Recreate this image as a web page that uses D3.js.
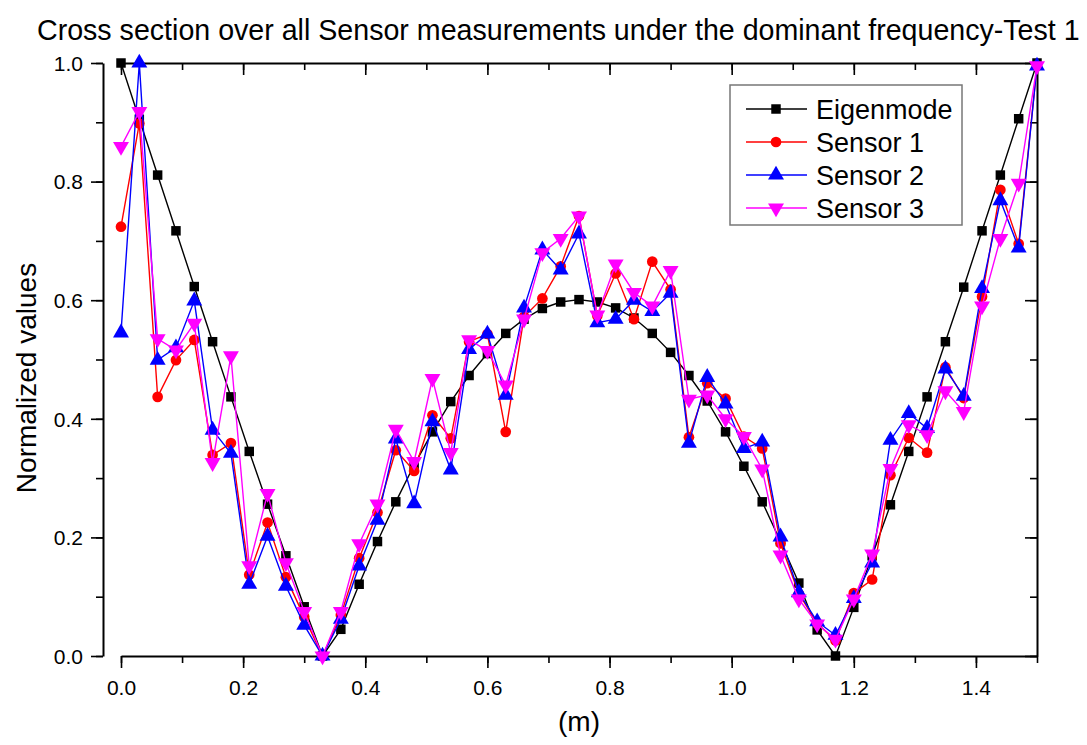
<!DOCTYPE html>
<html>
<head>
<meta charset="utf-8">
<script src="https://cdn.jsdelivr.net/npm/d3@7"></script>
<style>
  body { margin: 0; background: #fff; font-family: "Liberation Sans", Arial, sans-serif; }
  .tick text { font-family: "Liberation Sans", Arial, sans-serif; }
</style>
</head>
<body>
<div id="graph1"></div>
<script>
// positions along the beam (m)
var xs = [0.00,0.03,0.06,0.09,0.12,0.15,0.18,0.21,0.24,0.27,0.30,0.33,0.36,0.39,0.42,0.45,0.48,0.51,0.54,0.57,
          0.60,0.63,0.66,0.69,0.72,0.75,0.78,0.81,0.84,0.87,0.90,0.93,0.96,0.99,1.02,1.05,1.08,1.11,1.14,1.17,
          1.20,1.23,1.26,1.29,1.32,1.35,1.38,1.41,1.44,1.47,1.50];

var eigenmode = [1.0,0.905,0.811,0.717,0.623,0.530,0.437,0.345,0.256,0.169,0.083,0.0,0.045,0.121,0.193,0.260,0.322,0.378,0.429,0.473,
                 0.510,0.544,0.568,0.586,0.597,0.601,0.597,0.587,0.570,0.544,0.512,0.473,0.430,0.378,0.320,0.260,0.193,0.123,0.044,0.0,
                 0.082,0.169,0.255,0.345,0.437,0.530,0.622,0.717,0.811,0.906,1.0];

var sensor1 = [0.724,0.898,0.437,0.499,0.533,0.339,0.359,0.137,0.225,0.133,0.066,0.0,0.069,0.165,0.242,0.347,0.312,0.406,0.367,0.530,
               0.543,0.378,0.572,0.603,0.657,0.742,0.574,0.645,0.568,0.665,0.618,0.369,0.460,0.434,0.370,0.350,0.190,0.105,0.055,0.026,
               0.106,0.129,0.305,0.368,0.343,0.487,0.435,0.606,0.786,0.695,0.995];

var sensor2 = [0.545,1.0,0.499,0.520,0.599,0.381,0.342,0.121,0.202,0.118,0.052,0.0,0.062,0.152,0.229,0.366,0.257,0.395,0.314,0.517,
               0.543,0.440,0.587,0.685,0.651,0.712,0.562,0.568,0.600,0.581,0.612,0.359,0.470,0.425,0.350,0.361,0.201,0.107,0.058,0.035,
               0.097,0.157,0.364,0.409,0.384,0.484,0.438,0.620,0.768,0.688,0.995];

var sensor3 = [0.859,0.918,0.535,0.516,0.561,0.326,0.506,0.152,0.274,0.157,0.075,0.0,0.075,0.189,0.256,0.382,0.328,0.468,0.343,0.533,
               0.515,0.457,0.568,0.680,0.704,0.742,0.575,0.661,0.613,0.590,0.650,0.433,0.440,0.400,0.370,0.315,0.170,0.096,0.054,0.028,
               0.096,0.172,0.316,0.390,0.373,0.447,0.412,0.590,0.704,0.797,0.995];

var seriesNames = ["Eigenmode", "Sensor 1", "Sensor 2", "Sensor 3"];
var seriesColors = ["#000000", "#ff0000", "#0000ff", "#ff00ff"];
var xTicks = [0.0, 0.2, 0.4, 0.6, 0.8, 1.0, 1.2, 1.4];
var yTicks = [0.0, 0.2, 0.4, 0.6, 0.8, 1.0];

var margin = {top: 63, right: 50, bottom: 89, left: 121},
    width = 1087 - margin.left - margin.right,
    height = 745 - margin.top - margin.bottom;

var svg = d3.select("#graph1")
  .append("svg")
    .attr("width", 1087)
    .attr("height", 745);

var g = svg.append("g")
    .attr("transform", "translate(" + margin.left + "," + margin.top + ")");

var x = d3.scaleLinear().domain([0, 1.5]).range([0, width]);
var y = d3.scaleLinear().domain([0, 1.0]).range([height, 0]);

var minorX = d3.range(0, 1.5001, 0.1);
var minorY = d3.range(0, 1.0001, 0.1);

// left axis sits apart from the plot (offset)
var yOffset = -18;

// bottom axis: minor then major
g.append("g")
    .attr("transform", "translate(0," + height + ")")
    .call(d3.axisBottom(x).tickValues(minorX).tickSize(7).tickFormat(""))
    .call(function(a) { a.select(".domain").remove(); });
g.append("g")
    .attr("class", "xaxis")
    .attr("transform", "translate(0," + height + ")")
    .call(d3.axisBottom(x).tickValues(xTicks).tickSize(12).tickSizeOuter(0).tickPadding(12).tickFormat(d3.format(".1f")));

// left axis
g.append("g")
    .attr("transform", "translate(" + yOffset + ",0)")
    .call(d3.axisLeft(y).tickValues(minorY).tickSize(7).tickFormat(""))
    .call(function(a) { a.select(".domain").remove(); });
g.append("g")
    .attr("class", "yaxis")
    .attr("transform", "translate(" + yOffset + ",0)")
    .call(d3.axisLeft(y).tickValues(yTicks).tickSize(12).tickSizeOuter(0).tickPadding(8).tickFormat(d3.format(".1f")));

// top axis, ticks inward
g.append("g")
    .call(d3.axisTop(x).tickValues(minorX).tickSize(-7).tickFormat(""))
    .call(function(a) { a.select(".domain").remove(); });
g.append("g")
    .call(d3.axisTop(x).tickValues(xTicks).tickSize(-12).tickSizeOuter(0).tickFormat(""));

// right axis, ticks inward
g.append("g")
    .attr("transform", "translate(" + width + ",0)")
    .call(d3.axisRight(y).tickValues(minorY).tickSize(-7).tickFormat(""))
    .call(function(a) { a.select(".domain").remove(); });
g.append("g")
    .attr("transform", "translate(" + width + ",0)")
    .call(d3.axisRight(y).tickValues(yTicks).tickSize(-12).tickSizeOuter(0).tickFormat(""));

g.selectAll(".domain").attr("stroke-width", 2);
g.selectAll(".tick line").attr("stroke-width", 1.6);
g.selectAll(".xaxis text, .yaxis text").attr("font-size", 21).attr("fill", "#000");
g.select(".yaxis").selectAll(".tick text").attr("dy", "0.35em");

var allSeries = [eigenmode, sensor1, sensor2, sensor3];
var symbols = [d3.symbolSquare, d3.symbolCircle, d3.symbolTriangle, d3.symbolTriangle];
var symSizes = [90, 90, 110, 110];
var symRot = [0, 0, 0, 180];

var line = d3.line()
    .x(function(d) { return x(d.x); })
    .y(function(d) { return y(d.v); });

allSeries.forEach(function(vals, i) {
    var pts = xs.map(function(xv, j) { return {x: xv, v: vals[j]}; });
    var sg = g.append("g");
    sg.append("path")
      .datum(pts)
      .attr("d", line)
      .attr("fill", "none")
      .attr("stroke", seriesColors[i])
      .attr("stroke-width", 1.4);
    sg.selectAll("path.m")
      .data(pts)
      .enter().append("path")
      .attr("class", "m")
      .attr("d", d3.symbol().type(symbols[i]).size(symSizes[i]))
      .attr("transform", function(d) { return "translate(" + x(d.x) + "," + y(d.v) + ") rotate(" + symRot[i] + ")"; })
      .attr("fill", seriesColors[i]);
});

// legend
var legend = svg.append("g").attr("transform", "translate(730,85)");
legend.append("rect")
    .attr("width", 232).attr("height", 140)
    .attr("fill", "#fff").attr("stroke", "#777").attr("stroke-width", 1.5);
seriesNames.forEach(function(name, i) {
    var row = legend.append("g").attr("transform", "translate(0," + (24 + i * 33) + ")");
    row.append("line").attr("x1", 16).attr("x2", 77).attr("y1", 0).attr("y2", 0)
       .attr("stroke", seriesColors[i]).attr("stroke-width", 1.4);
    row.append("path")
       .attr("d", d3.symbol().type(symbols[i]).size(symSizes[i]))
       .attr("transform", "translate(46,0) rotate(" + symRot[i] + ")")
       .attr("fill", seriesColors[i]);
    row.append("text").text(name)
       .attr("x", 86).attr("y", 10)
       .attr("font-size", 27).attr("fill", "#000");
});

// labels
svg.append("text")
    .text("Cross section over all Sensor measurements under the dominant frequency-Test 1")
    .attr("x", 37).attr("y", 40)
    .attr("font-size", 28.6).attr("fill", "#000");

svg.append("text")
    .text("(m)")
    .attr("text-anchor", "middle")
    .attr("x", margin.left + width / 2)
    .attr("y", 731)
    .attr("font-size", 28);

svg.append("g")
    .attr("transform", "translate(36,378)")
    .append("text")
    .text("Normalized values")
    .attr("text-anchor", "middle")
    .attr("transform", "rotate(-90)")
    .attr("font-size", 28);
</script>
</body>
</html>
